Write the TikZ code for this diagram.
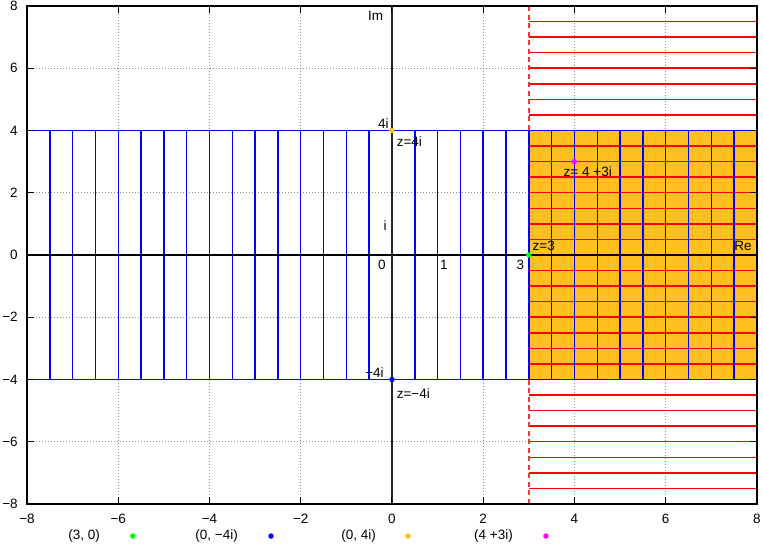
\documentclass[tikz,border=0pt]{standalone}
\usepackage{fontspec}
\setmainfont{Liberation Sans}
\usetikzlibrary{positioning}
\definecolor{goldenrod}{HTML}{FFC020}
\definecolor{gridgray}{HTML}{909090}
\definecolor{ptgreen}{HTML}{00FF00}
\definecolor{ptmagenta}{HTML}{FF00FF}

\begin{document}
\begin{tikzpicture}[x=45.625pt,y=31.125pt,font=\fontsize{13.5}{16}\selectfont]
\tikzstyle{lbl}=[inner sep=0pt,anchor=west]
\tikzstyle{ticklbl}=[inner sep=0pt]
\tikzstyle{dot}=[circle,inner sep=0pt,minimum size=5.5pt]
\tikzstyle{gridline}=[gridgray,line width=0.9pt,dash pattern=on 1pt off 2pt]
\useasboundingbox (-8.592,-9.317) rectangle (8.132,8.193);
% shaded region
\fill[goldenrod] (3,-4) rectangle (8,4);
% grid
\foreach \v in {-6,-4,-2,2,4,6} {
  \draw[gridline] (\v,-8) -- (\v,8);
  \draw[gridline] (-8,\v) -- (8,\v);
}
% half plane Re z > 3
\foreach \y in {-8,-7.5,...,8} \draw[red,line width=1.5pt] (3,\y) -- (8,\y);
\draw[red!80,line width=1.8pt,dash pattern=on 5pt off 3.5pt] (3,-8) -- (3,8);
% strip |Im z| < 4
\foreach \x in {-8,-7.5,...,8} \draw[blue,line width=1.5pt] (\x,-4) -- (\x,4);
\draw[blue,line width=1.5pt] (-8,4) -- (8,4) (-8,-4) -- (8,-4);
% axes
\draw[line width=1.2pt] (-8,0) -- (8,0);
\draw[black!85,line width=1.8pt] (0,-8) -- (0,8);
% border and tics
\draw[line width=2pt] (-8,-8) rectangle (8,8);
\foreach \v/\t in {-8/−8,-6/−6,-4/−4,-2/−2,0/0,2/2,4/4,6/6,8/8} {
  \draw[line width=1pt] (\v,-8) -- ++(0,7pt) (\v,8) -- ++(0,-7pt);
  \draw[line width=1pt] (-8,\v) -- ++(7pt,0) (8,\v) -- ++(-7pt,0);
  \node[ticklbl] (xt\v) at (\v,-8.48) {\t};
  \node[ticklbl,anchor=east] (yt\v) at (-8.2,\v) {\t};
}
% labels
\node[lbl] (im) at (-0.53,7.68) {Im};
\node[lbl] (re) at (7.5,0.29) {Re};
\node[lbl] (fouri) at (-0.31,4.23) {4i};
\node[lbl] (zfouri) at (0.1,3.64) {z=4i};
\node[lbl] (unit) at (-0.19,0.96) {i};
\node[lbl] (zero) at (-0.31,-0.32) {0};
\node[lbl] (one) at (1.05,-0.32) {1};
\node[lbl] (three) at (2.73,-0.32) {3};
\node[lbl] (zthree) at (3.08,0.29) {z=3};
\node[lbl] (zpt) at (3.76,2.68) {z= 4 +3i};
\node[lbl] (mfouri) at (-0.59,-3.77) {−4i};
\node[lbl] (zmfouri) at (0.1,-4.44) {z=−4i};
% points
\node[dot,fill=ptgreen] (p1) at (3,0) {};
\node[dot,fill=blue] (p2) at (0,-4) {};
\node[dot,fill=goldenrod] (p3) at (0,4) {};
\node[dot,fill=ptmagenta] (p4) at (4,3) {};
% key
\node[lbl,anchor=east] (k1) at (-6.40,-9.03) {(3, 0)};
\node[dot,fill=ptgreen] (k1dot) at (-5.68,-9.03) {};
\node[lbl,anchor=east] (k2) at (-3.375,-9.03) {(0, −4i)};
\node[dot,fill=blue] (k2dot) at (-2.652,-9.03) {};
\node[lbl,anchor=east] (k3) at (-0.351,-9.03) {(0, 4i)};
\node[dot,fill=goldenrod] (k3dot) at (0.351,-9.03) {};
\node[lbl,anchor=east] (k4) at (2.652,-9.03) {(4 +3i)};
\node[dot,fill=ptmagenta] (k4dot) at (3.375,-9.03) {};
\end{tikzpicture}
\end{document}
